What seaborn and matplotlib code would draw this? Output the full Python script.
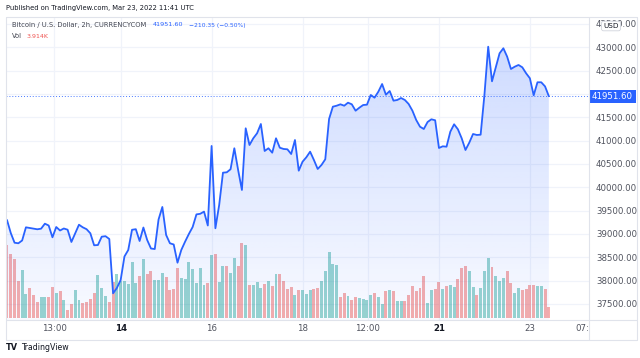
import numpy as np
import pandas as pd
import matplotlib
matplotlib.use("Agg")
import matplotlib.pyplot as plt
import matplotlib.transforms as mtransforms
from matplotlib.patches import Rectangle
from matplotlib.lines import Line2D
import seaborn as sns

# ---------------- data (2h bars, BTC/USD, CURRENCYCOM) ----------------
close = [
    39299, 39020, 38812, 38800, 38860, 39142, 39128, 39113, 39100, 39113,
    39220, 39181, 38928, 39149, 39074, 39117, 39091, 38828, 39014, 39198,
    39142, 39102, 39014, 38757, 38763, 38941, 38952, 38892, 37728, 37842,
    38013, 38517, 38656, 39089, 39102, 38849, 39138, 38870, 38688, 38677,
    39310, 39578, 38978, 38800, 38774, 38384, 38656, 38834, 38999, 39149,
    39419, 39432, 39479, 39181, 40885, 39121, 39620, 40313, 40321, 40386,
    40836, 40371, 39942, 41264, 40906, 41050, 41157, 41356, 40778, 40836,
    40741, 41050, 40848, 40821, 40814, 40713, 41013, 40356, 40548, 40643,
    40763, 40585, 40392, 40478, 40600, 41463, 41727, 41748, 41778, 41748,
    41813, 41778, 41641, 41706, 41763, 41770, 41978, 41920, 42048, 42213,
    41984, 42063, 41856, 41871, 41913, 41871, 41785, 41641, 41442, 41298,
    41249, 41399, 41457, 41436, 40842, 40878, 40870, 41191, 41350, 41243,
    41050, 40799, 40956, 41142, 41121, 41127, 41978, 43013, 42271, 42571,
    42871, 42979, 42799, 42535, 42584, 42621, 42571, 42443, 42336, 41971,
    42250, 42250, 42161.95, 41951.60,
]
volume_k = [
    27.03, 23.78, 21.81, 13.61, 17.71, 8.87, 10.89, 8.50, 5.67, 7.64,
    7.64, 7.64, 11.37, 9.13, 9.88, 6.41, 2.68, 5.03, 10.36, 6.52,
    5.41, 5.67, 7.01, 9.02, 15.84, 11.00, 8.13, 5.78, 13.23, 16.22,
    13.61, 13.61, 12.60, 20.58, 12.86, 15.36, 21.81, 16.22, 17.45, 13.98,
    13.98, 16.59, 15.10, 10.36, 10.62, 18.34, 14.84, 14.35, 20.69, 18.08,
    12.86, 18.57, 12.23, 12.97, 23.30, 23.67, 13.23, 19.31, 19.09, 16.70,
    22.29, 19.20, 27.77, 27.03, 12.00, 12.23, 13.23, 11.00, 12.49, 13.50,
    11.74, 16.11, 16.11, 13.61, 10.62, 11.37, 8.28, 10.36, 10.36, 8.76,
    10.36, 10.62, 11.00, 13.61, 17.45, 24.53, 19.94, 19.46, 7.75, 9.13,
    7.90, 6.64, 7.64, 7.27, 6.90, 6.64, 8.28, 9.13, 7.64, 5.14,
    9.77, 10.36, 9.99, 6.15, 6.15, 6.15, 8.39, 11.74, 9.99, 10.89,
    15.36, 5.41, 10.25, 10.62, 13.23, 10.62, 11.74, 12.00, 11.37, 14.35,
    18.45, 19.31, 17.22, 11.37, 8.39, 10.89, 17.22, 22.07, 18.71, 15.47,
    13.61, 14.84, 17.45, 12.86, 9.02, 11.00, 10.25, 10.62, 12.23, 12.23,
    11.63, 11.74, 10.51, 3.914,
]
direction = list(
    "RRRRGGRRRG" "GRRGRGRRGG" "RRRRGGGRRG" "GGGGGRGRRG" "GGRRRRGGGG"
    "GGGRGRGGRG" "GRRGRGGGRG" "RGRRRRGRGG" "GRRGGGGGRR" "GRRGGGGRGG"
    "RGRGGRRRRR" "RGGRRGRGGR" "RRGGRGGGRG" "GGRRGGRRRR" "GGRR"
)
tick_labels = ["13:00", "14", "16", "18", "12:00", "21", "23", "07:00"]
tick_pos = [12.5, 30, 54, 78, 95.2, 114, 138, 153.3]
price_ticks = [37500, 38000, 38500, 39000, 39500, 40000, 40500, 41000,
               41500, 42000, 42500, 43000, 43500]
last_price = 41951.60
change = -210.35
change_pct = -0.50
last_vol = "3.914K"

assert len(close) == len(volume_k) == len(direction)
bar = np.arange(len(close))
df = pd.DataFrame({"bar": bar, "close": close, "vol": volume_k, "dir": direction})

# ---------------- styling ----------------
sns.set_theme(style="white")
plt.rcParams['font.family'] = ['DejaVu Sans']

BLUE = "#2962ff"
RED = "#ef5350"
GREEN = "#26a69a"
GRID = "#f0f3fa"
FRAME = "#e0e3eb"
TXT = "#131722"
TXT2 = "#50535e"

W, H = 640, 358
fig = plt.figure(figsize=(W / 100, H / 100), dpi=100)
fig.patch.set_facecolor("white")


def fx(x):
    return x / W


def fy(y):
    return 1 - y / H


L, R, T, B = 6, 589, 17, 320
rect = [fx(L), fy(B), fx(R) - fx(L), fy(T) - fy(B)]
axv = fig.add_axes(rect)   # volume pane (behind)
ax = fig.add_axes(rect)    # price pane (front)
ax.patch.set_visible(False)

xlim = (-0.26, 153.6)
ylim = (37156, 43649)

# ---- volume bars ----
sns.barplot(data=df, x="bar", y="vol", hue="dir", palette={"R": RED, "G": GREEN},
            native_scale=True, dodge=False, legend=False, width=0.78,
            saturation=1, alpha=0.47, linewidth=0, errorbar=None, ax=axv)
axv.set_xlim(*xlim)
axv.set_ylim(-0.93, 112.0)
axv.set_xlabel("")
axv.set_ylabel("")
axv.set_xticks([])
axv.set_yticks([])
for s in axv.spines.values():
    s.set_visible(False)
axv.set_facecolor("white")

# grid (drawn behind the bars, in price coordinates)
gtrans = mtransforms.blended_transform_factory(axv.transAxes, ax.transData)
for p in price_ticks:
    axv.plot([0, 1], [p, p], transform=gtrans, color=GRID, lw=0.9, zorder=0)
for t in tick_pos[:-1]:
    axv.axvline(t, color=GRID, lw=0.9, zorder=0)

# ---- price area ----
ax.set_xlim(*xlim)
ax.set_ylim(*ylim)
poly = ax.fill_between(df["bar"], df["close"], ylim[0], facecolor="none", edgecolor="none")
grad = np.zeros((256, 1, 4))
grad[..., :3] = matplotlib.colors.to_rgb(BLUE)
grad[..., 3] = np.linspace(0.25, 0.03, 256)[:, None]
im = ax.imshow(grad, extent=[xlim[0], xlim[1], ylim[0], ylim[1]], aspect="auto",
               origin="upper", zorder=1, interpolation="bilinear")
im.set_clip_path(poly.get_paths()[0], transform=ax.transData)

sns.lineplot(data=df, x="bar", y="close", color=BLUE, lw=1.3, sort=False,
             ax=ax, zorder=3)
ax.axhline(last_price, color=BLUE, lw=0.7, ls=(0, (1, 2)), alpha=0.85, zorder=2)
ax.set_xlim(*xlim)
ax.set_ylim(*ylim)
ax.set_xlabel("")
ax.set_ylabel("")
for s in ax.spines.values():
    s.set_visible(False)

# x ticks
ax.set_xticks(tick_pos)
ax.set_xticklabels(tick_labels)
ax.tick_params(axis="x", length=0, pad=3.2, labelsize=6.2, labelcolor=TXT2)
for lab in ax.get_xticklabels():
    if lab.get_text() in ("14", "21"):
        lab.set_fontweight("bold")
        lab.set_color(TXT)

# y ticks on the right (the level under the last-price badge is hidden)
ax.yaxis.tick_right()
ax.set_yticks(price_ticks)
ax.set_yticklabels([("" if abs(p - last_price) < 120 else f"{p:.2f}")
                    for p in price_ticks])
ax.tick_params(axis="y", length=0, pad=5, labelsize=6.2, labelcolor=TXT2)

# last price label on the price scale
ltrans = mtransforms.blended_transform_factory(ax.transAxes, ax.transData)
box_h = 6.5 * (ylim[1] - ylim[0]) / (B - T)
ax.add_patch(Rectangle((1.0, last_price - box_h), 47 / (R - L), 2 * box_h,
                       transform=ltrans, facecolor=BLUE, edgecolor="none",
                       clip_on=False, zorder=5))
ax.text(1.0 + 23.5 / (R - L), last_price, f"{last_price:.2f}", transform=ltrans,
        ha="center", va="center", color="white", fontsize=6.2, zorder=6,
        clip_on=False)

# hide the part of the last time label that falls under the price scale
fig.patches.append(Rectangle((fx(R + 0.5), fy(339)), fx(637) - fx(R + 0.5),
                             fy(B + 0.5) - fy(339), transform=fig.transFigure,
                             facecolor="white", edgecolor="none", zorder=2))

# frame lines
def fline(x0, y0, x1, y1):
    fig.lines.append(Line2D([fx(x0), fx(x1)], [fy(y0), fy(y1)],
                            transform=fig.transFigure, color=FRAME, lw=0.8, zorder=4))

fline(L, T, 637, T)
fline(L, 340, 637, 340)
fline(L, T, L, 340)
fline(637, T, 637, 340)
fline(L, B, 637, B)
fline(R, T, R, 340)

# USD badge
fig.text(fx(611), fy(26), "USD", ha="center", va="center", fontsize=5.2, color=TXT,
         zorder=5, bbox=dict(boxstyle="round,pad=0.25,rounding_size=0.3",
                             fc="white", ec="#d1d4dc", lw=0.6))

# ---- texts ----
renderer = fig.canvas.get_renderer()


def put(x, y, s, width=None, size=6, **kw):
    t = fig.text(fx(x), fy(y), s, fontsize=size, ha="left", va="center", **kw)
    if width:
        w = t.get_window_extent(renderer).width
        t.set_fontsize(size * width / w)
    return t


put(6, 8, "Published on TradingView.com, Mar 23, 2022 11:41 UTC", width=188, color=TXT)
put(12, 25, "Bitcoin / U.S. Dollar, 2h, CURRENCYCOM", width=136, color="#434651")
put(153, 25, f"{last_price:.2f}", width=30, color=BLUE)
put(189, 25, f"\u2212{abs(change):.2f} (\u2212{abs(change_pct):.2f}%)", width=57, color=BLUE)
put(12, 36.5, "Vol", width=10, color="#434651")
put(27, 36.5, last_vol, width=22, color=RED)
put(6, 347, "TV", width=12, color=TXT, fontweight="heavy")
put(21, 347, "TradingView", width=48, color=TXT)

fig.savefig("out.png", dpi=100, facecolor="white")
